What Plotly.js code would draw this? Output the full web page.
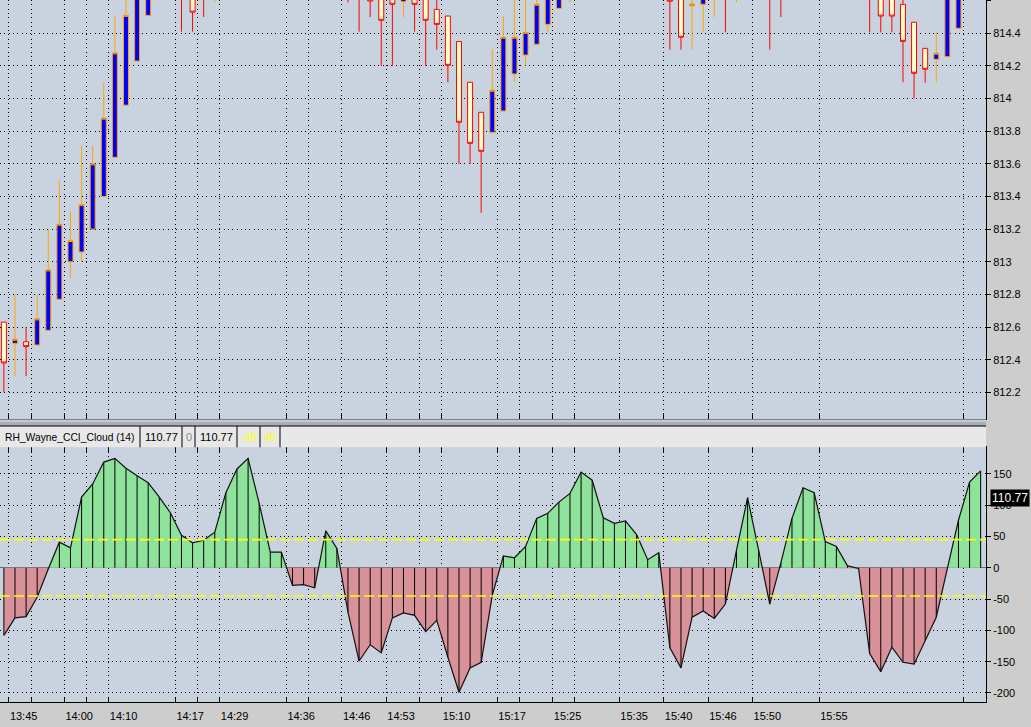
<!DOCTYPE html>
<html><head><meta charset="utf-8">
<script src="https://cdn.plot.ly/plotly-3.0.1.min.js"></script>
<style>html,body{margin:0;padding:0;background:#cdcdcd;}#chart{width:1031px;height:727px;}</style>
</head><body><div id="chart"></div>
<script>
// ---- price bars (one per bar index) ----
const openP = [812.63,812.50,812.51,812.49,812.58,812.77,813.00,813.06,813.20,813.40,
813.64,813.96,814.23,814.51,814.80,814.95,815.00,814.75,814.70,814.64,
814.74,814.86,814.95,814.98,814.84,814.78,814.76,814.74,814.72,814.86,
814.76,814.70,814.66,814.66,814.68,814.66,814.594,814.66,814.64,814.547,
814.506,814.35,814.10,813.916,813.793,813.924,814.151,814.267,814.333,814.455,
814.553,814.70,814.76,814.88,814.82,814.80,814.82,814.76,814.72,814.74,
814.68,814.64,814.569,814.578,814.66,814.72,814.64,814.70,814.82,814.70,
814.74,814.68,814.82,814.90,814.86,814.76,814.80,814.72,814.70,814.66,
814.64,814.578,814.468,814.308,814.241,814.257,814.431,814.74,814.88];
const highP = [812.63,812.80,812.60,812.80,813.20,813.50,813.31,813.71,813.71,814.10,
814.51,814.66,814.75,814.85,815.00,815.10,815.08,814.80,814.78,814.80,
814.90,815.00,815.05,815.00,814.90,814.85,814.82,814.80,814.90,814.90,
814.80,814.74,814.70,814.70,814.72,814.70,814.70,814.70,814.68,814.62,
814.506,814.35,814.10,813.916,814.304,814.506,814.62,814.62,814.64,814.72,
814.78,814.80,814.92,814.95,814.88,814.86,814.86,814.80,814.80,814.78,
814.72,814.70,814.62,814.72,814.75,814.76,814.74,814.85,814.84,814.74,
814.80,814.86,814.94,814.95,814.88,814.84,814.82,814.78,814.74,814.70,
814.68,814.62,814.468,814.308,814.406,814.72,814.80,814.92,814.98];
const lowP = [812.20,812.30,812.30,812.49,812.58,812.77,812.90,813.00,813.20,813.40,
813.64,813.96,814.23,814.51,814.72,814.85,814.41,814.41,814.50,814.59,
814.70,814.80,814.88,814.80,814.72,814.70,814.70,814.68,814.70,814.72,
814.66,814.59,814.41,814.50,814.20,814.20,814.50,814.41,814.20,814.30,
814.10,813.60,813.60,813.30,813.793,813.924,814.10,814.204,814.333,814.404,
814.553,814.59,814.72,814.76,814.74,814.72,814.70,814.68,814.68,814.66,
814.30,814.30,814.30,814.406,814.50,814.406,814.59,814.66,814.66,814.30,
814.50,814.66,814.78,814.80,814.72,814.72,814.68,814.66,814.406,814.406,
814.406,814.10,814.00,814.098,814.098,814.257,814.431,814.70,814.82];
const closeP = [812.38,812.525,812.48,812.65,812.95,813.23,813.13,813.35,813.60,813.88,
814.28,814.51,814.70,814.80,814.95,815.05,814.72,814.53,814.64,814.74,
814.86,814.95,814.98,814.84,814.78,814.76,814.74,814.72,814.86,814.76,
814.70,814.64,814.62,814.598,814.48,814.578,814.66,814.578,814.48,814.455,
814.204,813.855,813.726,813.677,814.051,814.376,814.376,814.406,814.578,814.68,
814.74,814.76,814.88,814.82,814.80,814.82,814.76,814.72,814.74,814.68,
814.597,814.376,814.58,814.68,814.70,814.64,814.70,814.82,814.70,814.64,
814.68,814.82,814.90,814.86,814.76,814.80,814.72,814.70,814.64,814.506,
814.506,814.351,814.155,814.18,814.278,814.66,814.74,814.88,814.94];
// ---- CCI values ----
const cci = [-108,-80,-78,-47,-2,41,32,113,134,169,
175,159,147,136,113,88,52,40,44,57,
120,158,175,103,25,25,-28,-27,-32,59,
31,-71,-149,-123,-136,-80,-72,-76,-102,-84,
-143,-199,-160,-151,-44,19,16,34,79,87,
105,119,153,140,80,71,75,53,13,24,
-128,-160,-79,-69,-81,-58,28,112,28,-58,
8,79,128,120,42,34,3,-1,-137,-166,
-127,-151,-154,-116,-79,-1,76,137,155];
const cciLevels = [-45, 45];
const cciTicks = [150,100,50,0,-50,-100,-150,-200];
const cciTickText = ['150','100','50','0','-50','-100','-150','-200'];
// ---- time axis ----
const tickBars = [0,2,5,7,9,15,17,19,25,27,30,34,37,39,44,46,49,51,55,59,63,67,73,86];
const tickLabels = ['13:45','','14:00','','14:10','14:17','','14:29','14:36','','14:46','14:53','','15:10','15:17','','15:25','','15:35','15:40','15:46','15:50','15:55',''];
// ---- header ----
const indicatorName = 'RH_Wayne_CCI_Cloud (14)';
const headerValues = ['110.77','0','110.77','-45','45'];
const lastValue = 110.77;

const idx = cci.map((_, i) => i);

// fill polygons split at the zero line
function part(sign) {
  const xs = [], ys = [];
  for (let i = 0; i < cci.length; i++) {
    const v = cci[i];
    xs.push(i); ys.push(sign > 0 ? Math.max(v, 0) : Math.min(v, 0));
    if (i < cci.length - 1) {
      const w = cci[i + 1];
      if ((v > 0 && w < 0) || (v < 0 && w > 0)) {
        xs.push(i + v / (v - w)); ys.push(0);
      }
    }
  }
  return {xs, ys};
}
const pos = part(1), neg = part(-1);
const vx = [], vy = [];
idx.forEach(i => { vx.push(i, i, null); vy.push(0, cci[i], null); });

const traces = [
  {type:'candlestick', x:idx, open:openP, high:highP, low:lowP, close:closeP,
   xaxis:'x', yaxis:'y', whiskerwidth:0, hoverinfo:'skip',
   increasing:{line:{color:'#ffa500', width:1}, fillcolor:'#0000ff'},
   decreasing:{line:{color:'#ff0000', width:1}, fillcolor:'#ffffcc'}},
  {type:'scatter', mode:'lines', x:pos.xs, y:pos.ys, xaxis:'x2', yaxis:'y2',
   fill:'tozeroy', fillcolor:'#8ee29c', line:{width:0}, hoverinfo:'skip'},
  {type:'scatter', mode:'lines', x:neg.xs, y:neg.ys, xaxis:'x2', yaxis:'y2',
   fill:'tozeroy', fillcolor:'#d9919a', line:{width:0}, hoverinfo:'skip'},
  {type:'scatter', mode:'lines', x:vx, y:vy, xaxis:'x2', yaxis:'y2',
   line:{color:'#000', width:1}, connectgaps:false, hoverinfo:'skip'},
  {type:'scatter', mode:'lines', x:idx, y:cci, xaxis:'x2', yaxis:'y2',
   line:{color:'#111', width:1.2}, hoverinfo:'skip'}
];

const H = 702;
const py = p => (H - p) / H;
const pxW = 986;
const tickPos = tickBars.map(b => b + 0.45);
const xr = [-0.35, 88.48];
const fontFam = 'Arial, "Liberation Sans", sans-serif';
const gridCommon = {showgrid:true, gridcolor:'#000', gridwidth:1, griddash:'1px,3.3px'};

const shapes = [
  {type:'rect', xref:'paper', yref:'paper', x0:0, x1:1, y0:py(426), y1:py(419.3), fillcolor:'#a9afb8', line:{width:0}},
  {type:'rect', xref:'paper', yref:'paper', x0:0, x1:1, y0:py(447.3), y1:py(426), fillcolor:'#e8e8e8', line:{width:0}},
  {type:'line', xref:'paper', yref:'paper', x0:0, x1:1, y0:py(426), y1:py(426), line:{color:'#000', width:1}},
  {type:'line', xref:'paper', yref:'paper', x0:0, x1:1, y0:py(421), y1:py(421), line:{color:'#e0e4ea', width:1}}
];
[140,182,195,237,260,280].forEach(p => shapes.push({type:'line', xref:'paper', yref:'paper',
  x0:p/pxW, x1:p/pxW, y0:py(447.3), y1:py(426), line:{color:'#000', width:1}}));
cciLevels.forEach(l => shapes.push({type:'line', xref:'paper', yref:'y2', x0:0, x1:1, y0:l, y1:l,
  line:{color:'#ffff00', width:1.6, dash:'10px,4px'}}));

const headerCenters = [161, 188.5, 216, 248.5, 270];
const headerColors = ['#000','#888','#000','#ffff00','#ffff00'];
const annotations = [
  {xref:'paper', yref:'paper', x:3/pxW, y:py(437), xanchor:'left', yanchor:'middle', showarrow:false,
   text:indicatorName, font:{family:fontFam, size:10.3, color:'#000'}}
];
headerValues.forEach((t, k) => annotations.push({xref:'paper', yref:'paper', x:headerCenters[k]/pxW, y:py(437),
  xanchor:'center', yanchor:'middle', showarrow:false, text:t, font:{family:fontFam, size:11, color:headerColors[k]}}));
annotations.push({xref:'paper', yref:'y2', x:1, xshift:4, y:lastValue, xanchor:'left', yanchor:'middle',
  showarrow:false, text:String(lastValue), bgcolor:'#000', borderpad:1, font:{family:fontFam, size:12, color:'#fff'}});

const layout = {
  width:1031, height:727,
  margin:{l:0, r:45, t:0, b:25, pad:0},
  paper_bgcolor:'#cdcdcd', plot_bgcolor:'#c9d3df',
  showlegend:false, boxgap:0.36,
  font:{family:fontFam, size:11, color:'#000'},
  xaxis:Object.assign({domain:[0,1], anchor:'y', range:xr, tickmode:'array', tickvals:tickPos,
    ticktext:tickPos.map(() => ''), showticklabels:false, ticks:'inside', ticklen:5, tickcolor:'#000',
    showline:true, linecolor:'#000', linewidth:1, zeroline:false, rangeslider:{visible:false}, fixedrange:true}, gridCommon),
  xaxis2:Object.assign({domain:[0,1], anchor:'y2', range:xr, tickmode:'array', tickvals:tickPos,
    ticktext:tickLabels, ticklabelposition:'outside right', ticklabelstandoff:4, ticks:'inside', ticklen:5, tickcolor:'#000',
    showline:true, linecolor:'#000', linewidth:1, mirror:'ticks', zeroline:false, fixedrange:true,
    tickfont:{family:fontFam, size:11, color:'#000'}}, gridCommon),
  yaxis:Object.assign({domain:[py(419.3),1], anchor:'x', side:'right', range:[812.0345,814.6043],
    tick0:812.2, dtick:0.2, ticks:'outside', ticklen:4, tickcolor:'#000', showline:true, linecolor:'#000',
    linewidth:1, zeroline:false, fixedrange:true, tickfont:{family:fontFam, size:11, color:'#000'}}, gridCommon),
  yaxis2:Object.assign({domain:[0,py(447.3)], anchor:'x2', side:'right', range:[-214.5,192.6],
    tickmode:'array', tickvals:cciTicks, ticktext:cciTickText, ticks:'outside', ticklen:4, tickcolor:'#000',
    showline:true, linecolor:'#000', linewidth:1, zeroline:true, zerolinecolor:'#6e6e6e', zerolinewidth:1,
    fixedrange:true, tickfont:{family:fontFam, size:11, color:'#000'}}, gridCommon),
  shapes, annotations
};
Plotly.newPlot('chart', traces, layout, {staticPlot:true, displayModeBar:false});
</script></body></html>
